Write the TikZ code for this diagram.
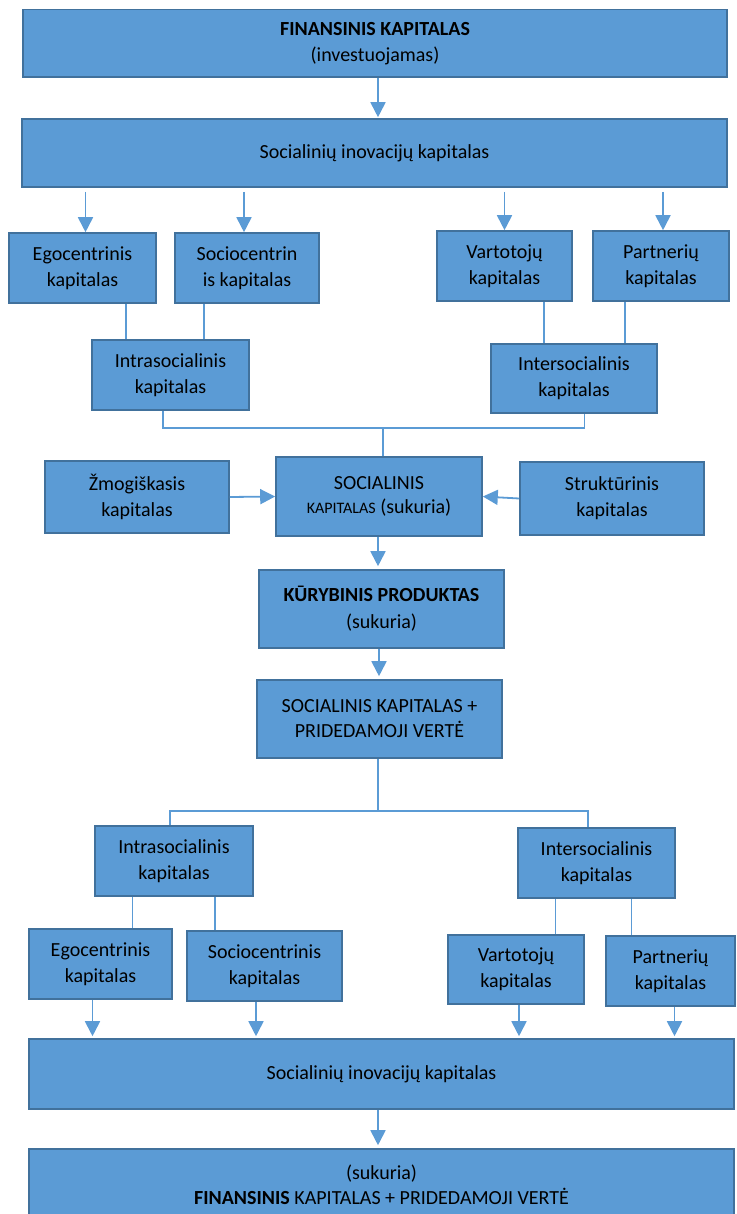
\documentclass[tikz,border=0pt]{standalone}
\usepackage{fontspec}
\setmainfont{Carlito}
\usetikzlibrary{arrows.meta,calc}
\definecolor{boxfill}{HTML}{5B9BD5}
\definecolor{boxline}{HTML}{41719C}
\definecolor{linkblue}{HTML}{5B9BD5}
\tikzset{
  box/.style={draw=boxline, fill=boxfill, line width=1.6pt, rectangle,
    inner sep=0pt, align=center, font=\fontsize{20}{26}\selectfont},
  wh/.style 2 args={minimum width=#1pt, minimum height=#2pt},
  conn/.style={draw=linkblue, line width=1.8pt},
  arr/.style={conn, -{Triangle[width=15pt,length=15pt]}},
}
\begin{document}
\begin{tikzpicture}[x=1pt,y=-1pt]
\useasboundingbox (0,0) rectangle (736,1214);
\clip (0,0) rectangle (736,1214);

% upper half
\node[box, wh={704}{67.5}] (f1) at (375,43.25) {\textbf{FINANSINIS KAPITALAS}\\(investuojamas)};
\node[box, wh={705}{68}] (s1) at (374.5,153) {Socialinių inovacijų kapitalas};
\node[box, wh={147}{70}] (ego1) at (82.5,268) {Egocentrinis\\kapitalas};
\node[box, wh={144}{70}] (soc1) at (247,268) {Sociocentrin\\is kapitalas};
\node[box, wh={135}{70}] (var1) at (504.5,266) {Vartotojų\\kapitalas};
\node[box, wh={136}{70}] (par1) at (661,266) {Partnerių\\kapitalas};
\node[box, wh={157}{70}] (intra1) at (170.5,375) {Intrasocialinis\\kapitalas};
\node[box, wh={166}{69}] (inter1) at (574,378.5) {Intersocialinis\\kapitalas};

% centre
\node[box, wh={184}{72}] (zmog) at (137,497) {Žmogiškasis\\kapitalas};
\node[box, wh={206}{79}, font=\fontsize{20}{24}\selectfont] (soc) at (379,496.5)
  {SOCIALINIS\\{\fontsize{16}{24}\selectfont KAPITALAS} (sukuria)};
\node[box, wh={184}{73}] (str) at (612,498.5) {Struktūrinis\\kapitalas};
\node[box, wh={245}{78}, font=\fontsize{20}{27}\selectfont] (kur) at (381.5,609) {\textbf{KŪRYBINIS PRODUKTAS}\\(sukuria)};
\node[box, wh={245}{78}, font=\fontsize{20}{25}\selectfont] (spv) at (379.5,719) {SOCIALINIS KAPITALAS +\\PRIDEDAMOJI VERTĖ};

% lower half
\node[box, wh={158}{70}] (intra2) at (174,861) {Intrasocialinis\\kapitalas};
\node[box, wh={157}{70}] (inter2) at (596.5,863) {Intersocialinis\\kapitalas};
\node[box, wh={143}{70}] (ego2) at (100.5,964) {Egocentrinis\\kapitalas};
\node[box, wh={155}{70}] (soc2) at (264.5,966) {Sociocentrinis\\kapitalas};
\node[box, wh={136}{69}] (var2) at (516,969.5) {Vartotojų\\kapitalas};
\node[box, wh={129}{70}] (par2) at (670.5,971) {Partnerių\\kapitalas};
\node[box, wh={705}{70}] (s2) at (381.5,1074) {Socialinių inovacijų kapitalas};
\node[box, wh={705}{71}, font=\fontsize{20}{25}\selectfont] (f2) at (381.5,1184.5) {(sukuria)\\\textbf{FINANSINIS} KAPITALAS + PRIDEDAMOJI VERTĖ};

% connectors, upper half
\draw[arr, shorten >=1pt] ($(f1.south)+(3,0)$) -- ($(s1.north -| f1.south)+(3,0)$);
\draw[arr, shorten <=4pt] ($(ego1.north |- s1.south)+(3,0)$) -- ($(ego1.north)+(3,0)$);
\draw[arr, shorten <=4pt] ($(soc1.north |- s1.south)+(-3,0)$) -- ($(soc1.north)+(-3,0)$);
\draw[arr, shorten <=4pt] (var1.north |- s1.south) -- (var1.north);
\draw[arr, shorten <=4pt] ($(par1.north |- s1.south)+(2,0)$) -- ($(par1.north)+(2,0)$);
\draw[conn] ($(ego1.south)+(43.5,0)$) -- ($(intra1.north -| ego1.south)+(43.5,0)$);
\draw[conn] ($(soc1.south)+(-43,0)$) -- ($(intra1.north -| soc1.south)+(-43,0)$);
\draw[conn] ($(var1.south)+(39.5,0)$) -- ($(inter1.north -| var1.south)+(39.5,0)$);
\draw[conn] ($(par1.south)+(-36,0)$) -- ($(inter1.north -| par1.south)+(-36,0)$);
\coordinate (j1) at ($(soc.north)+(4,-28)$);
\draw[conn] ($(intra1.south)+(-7.5,0)$) |- (j1) -| ($(inter1.south)+(10.5,0)$);
\draw[conn] (j1) -- (j1 |- soc.north);

% connectors, centre
\draw[arr] (zmog.east) -- (soc.west);
\draw[arr] (str.west) -- (soc.east);
\draw[arr, shorten >=3pt] ($(soc.south)+(-1,0)$) -- ($(kur.north -| soc.south)+(-1,0)$);
\draw[arr, shorten >=3pt] ($(kur.south)+(-2.5,0)$) -- ($(spv.north -| kur.south)+(-2.5,0)$);
\coordinate (j2) at ($(spv.south)+(-1.5,52)$);
\draw[conn] (j2 |- spv.south) -- (j2);
\draw[conn] ($(intra2.north)+(-4,0)$) |- (j2) -| ($(inter2.north)+(-8.5,0)$);

% connectors, lower half
\draw[conn] ($(intra2.south)+(-41.5,0)$) -- ($(ego2.north -| intra2.south)+(-41.5,0)$);
\draw[conn] ($(intra2.south)+(41,0)$) -- ($(soc2.north -| intra2.south)+(41,0)$);
\draw[conn] ($(inter2.south)+(-41,0)$) -- ($(var2.north -| inter2.south)+(-41,0)$);
\draw[conn] ($(inter2.south)+(35,0)$) -- ($(par2.north -| inter2.south)+(35,0)$);
\draw[arr, shorten >=2pt] ($(ego2.south)+(-8,0)$) -- ($(s2.north -| ego2.south)+(-8,0)$);
\draw[arr, shorten >=2pt] ($(soc2.south)+(-8.5,0)$) -- ($(s2.north -| soc2.south)+(-8.5,0)$);
\draw[arr, shorten >=2pt] ($(var2.south)+(3,0)$) -- ($(s2.north -| var2.south)+(3,0)$);
\draw[arr, shorten >=2pt] ($(par2.south)+(4,0)$) -- ($(s2.north -| par2.south)+(4,0)$);
\draw[arr, shorten >=3pt] ($(s2.south)+(-3.5,0)$) -- ($(f2.north -| s2.south)+(-3.5,0)$);
\end{tikzpicture}
\end{document}
